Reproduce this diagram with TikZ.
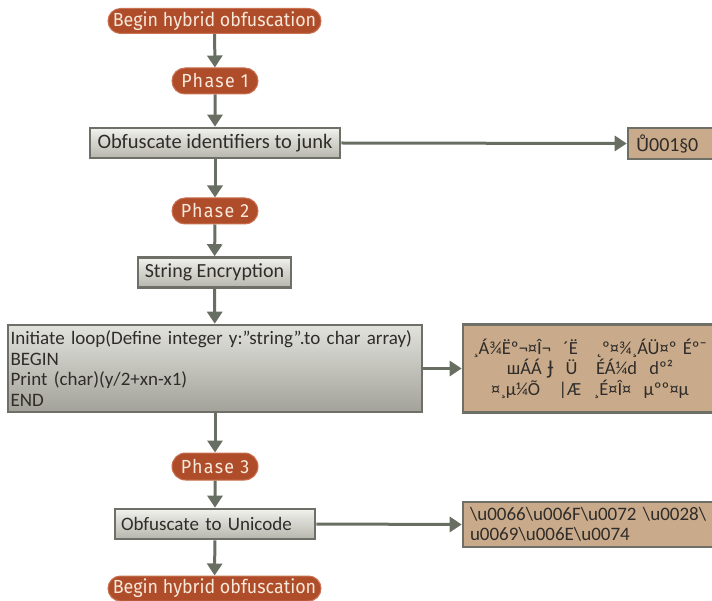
\documentclass[tikz,border=0pt]{standalone}
\usepackage{fontspec}
\setmainfont{Carlito}
\newfontfamily\pillfont[FakeStretch=0.94]{Fira Sans}
\newfontfamily\phasefont[FakeStretch=0.94,LetterSpace=7]{Fira Sans}
\newfontfamily\symfont{DejaVu Sans}
\usetikzlibrary{arrows.meta,shapes.misc}

\definecolor{pillfill}{HTML}{AF4D2B}
\definecolor{pilledge}{HTML}{C97150}
\definecolor{pilltext}{HTML}{F7E8DA}
\definecolor{flowgray}{HTML}{696E62}
\definecolor{boxedge}{HTML}{6E6F66}
\definecolor{boxtop}{HTML}{F1F1ED}
\definecolor{boxbot}{HTML}{B6B6AE}
\definecolor{looptop}{HTML}{E2E2DD}
\definecolor{loopbot}{HTML}{A2A29A}
\definecolor{tanfill}{HTML}{C9AB8C}
\definecolor{textdark}{HTML}{2F2C29}

\newcommand{\bs}{\textbackslash}

\begin{document}
\begin{tikzpicture}[x=1pt,y=-1pt,
  pill/.style={rounded rectangle, fill=pillfill, draw=pilledge, line width=1pt,
    text=pilltext, font=\pillfont\fontsize{19}{20}\selectfont,
    minimum height=25pt, inner sep=0pt},
  phasepill/.style={pill, font=\phasefont\fontsize{19}{20}\selectfont,
    minimum width=86pt, minimum height=26pt},
  graybox/.style={rectangle, draw=boxedge, line width=2.6pt,
    top color=boxtop, bottom color=boxbot, text=textdark,
    font=\fontsize{20}{21}\selectfont, inner sep=0pt},
  loopbox/.style={graybox, top color=looptop, bottom color=loopbot},
  tanbox/.style={rectangle, draw=boxedge, line width=2.6pt, fill=tanfill,
    text=textdark, font=\fontsize{17}{20.5}\selectfont, inner sep=0pt},
  flow/.style={draw=flowgray, line width=3pt,
    -{Triangle[width=15pt,length=12pt]}}
]
\useasboundingbox (0,0) rectangle (712,601);
\clip (0,0) rectangle (712,601);

% main column
\node[pill, minimum width=213pt] (start) at (214.5,21) {Begin hybrid obfuscation};
\node[phasepill] (ph1) at (215,81) {Phase 1};
\node[graybox, minimum width=250pt, minimum height=30pt,
  font=\fontsize{20.5}{21}\selectfont] (ident) at (215,143)
  {Obfuscate identifiers to junk};
\node[phasepill] (ph2) at (215,211) {Phase 2};
\node[graybox, minimum width=153pt, minimum height=30pt] (enc) at (214.5,272.5)
  {String Encryption};
\node[loopbox, minimum width=414pt, minimum height=87pt,
  text width=409pt, align=left, font=\fontsize{19}{20.5}\selectfont] (loop) at (215,368.5)
  {Initiate loop(Define integer y:”string”.to char array)\\
   BEGIN\\
   Print (char)(y/2+xn-x1)\\
   END};
\node[phasepill, minimum height=27pt] (ph3) at (215,466.5) {Phase 3};
\node[graybox, minimum width=200pt, minimum height=30pt,
  text width=188pt, align=left, font=\fontsize{19}{20}\selectfont] (uni) at (215,524)
  {Obfuscate to Unicode};
\node[pill, minimum width=213pt] (stop) at (214.5,588.5) {Begin hybrid obfuscation};

% outputs on the right
\node[tanbox, minimum width=92pt, minimum height=31pt,
  text width=76pt, align=left, font=\fontsize{20}{21}\selectfont] (junk) at (674,143.5)
  {{\symfont\fontsize{18}{20}\selectfont Ů}001{\symfont\fontsize{17}{20}\selectfont §}0};
\node[tanbox, minimum width=254pt, minimum height=88pt,
  text width=250pt, align=center, font=\fontsize{18.5}{20.5}\selectfont] (cipher) at (590,368.5)
  {¸Á¾Ëº¬¤Î¬ \ ´Ë \ \ ˛º¤¾¸ÁÜ¤º Éº¯\\
   шÁÁ {\symfont Ɉ} \ Ü \ \ ÉÁ¼d \ dº²\\
   ¤¸µ¼Õ \ \ |Æ \ ¸É¤Î¤ \ µºº¤µ};
\node[tanbox, minimum width=254pt, minimum height=45pt,
  text width=240pt, align=left, font=\fontsize{19}{20}\selectfont] (code) at (590,524.5)
  {\bs u0066\bs u006F\bs u0072 \bs u0028\bs\\
   u0069\bs u006E\bs u0074};

% connectors
\draw[flow] (start) -- (ph1);
\draw[flow] (ph1) -- (ident);
\draw[flow] (ident) -- (ph2);
\draw[flow] (ph2) -- (enc);
\draw[flow] (enc) -- (loop);
\draw[flow] (loop) -- (ph3);
\draw[flow] (ph3) -- (uni);
\draw[flow] (uni) -- (stop);
\draw[flow] (ident.east) -- (junk.west);
\draw[flow] (loop.east) -- (cipher.west);
\draw[flow] (uni.east) -- (code.west);
\end{tikzpicture}
\end{document}
